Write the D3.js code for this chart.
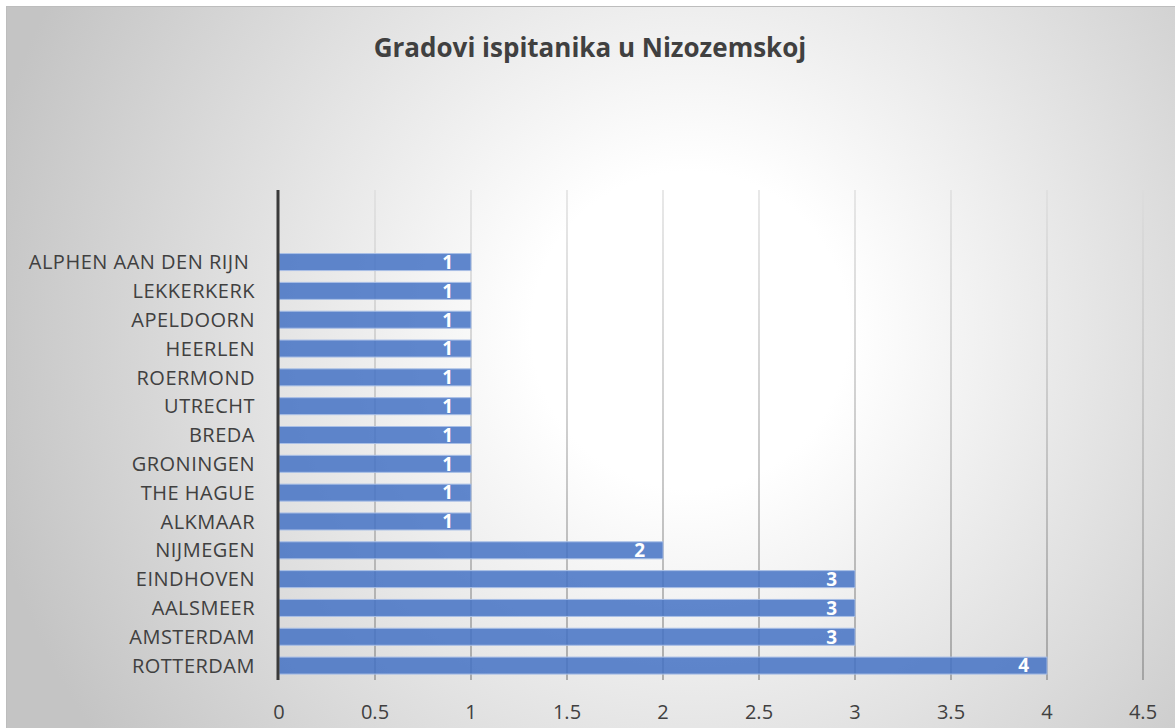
<!DOCTYPE html>
<html>
<head>
<meta charset="utf-8">
<script src="https://cdn.jsdelivr.net/npm/d3@7"></script>
<style>
  html, body { margin: 0; padding: 0; background: #fff; }
  svg { display: block; }
  text { font-family: "Open Sans", Lato, sans-serif; }
</style>
</head>
<body>
<svg id="chart" width="1175" height="728"></svg>
<script>
const title = "Gradovi ispitanika u Nizozemskoj";
// two blank category slots at the top of the axis, as in the source sheet
const blankSlots = ["", ""];
const categories = ["ALPHEN AAN DEN RIJN ", "LEKKERKERK", "APELDOORN", "HEERLEN", "ROERMOND",
  "UTRECHT", "BREDA", "GRONINGEN", "THE HAGUE", "ALKMAAR", "NIJMEGEN", "EINDHOVEN",
  "AALSMEER", "AMSTERDAM", "ROTTERDAM"];
const values = [1, 1, 1, 1, 1, 1, 1, 1, 1, 1, 2, 3, 3, 3, 4];
const xTicks = [0, 0.5, 1, 1.5, 2, 2.5, 3, 3.5, 4, 4.5];

const W = 1175, H = 728;
const svg = d3.select("#chart");
const defs = svg.append("defs");

const bg = defs.append("radialGradient").attr("id", "bg")
  .attr("gradientUnits", "userSpaceOnUse")
  .attr("cx", 690).attr("cy", 330).attr("r", 720);
bg.append("stop").attr("offset", "0%").attr("stop-color", "#ffffff");
bg.append("stop").attr("offset", "22%").attr("stop-color", "#ffffff");
bg.append("stop").attr("offset", "100%").attr("stop-color", "#c4c4c4");

const margin = { top: 190, bottom: 48, left: 279, right: 32 };
const plotTop = margin.top, plotBottom = H - margin.bottom;

const gl = defs.append("linearGradient").attr("id", "grid")
  .attr("gradientUnits", "userSpaceOnUse")
  .attr("x1", 0).attr("y1", plotTop).attr("x2", 0).attr("y2", plotBottom);
gl.append("stop").attr("offset", "0%").attr("stop-color", "#dcdcdc");
gl.append("stop").attr("offset", "100%").attr("stop-color", "#8a8a8a");

svg.append("rect").attr("x", 6.5).attr("y", 6.5).attr("width", W).attr("height", H)
  .attr("fill", "url(#bg)").attr("stroke", "#bdbdbd").attr("stroke-width", 1);

const slotKeys = blankSlots.map((d, i) => "blank" + i).concat(categories.map((d, i) => "c" + i));

const x = d3.scaleLinear().domain([0, 4.5]).range([margin.left, W - margin.right]);
const y = d3.scaleBand().domain(slotKeys).range([plotTop, plotBottom]).paddingInner(0.41).paddingOuter(0.205);

// gridlines
svg.append("g").selectAll("line").data(xTicks.filter(d => d > 0)).join("line")
  .attr("x1", d => x(d)).attr("x2", d => x(d))
  .attr("y1", plotTop).attr("y2", plotBottom)
  .attr("stroke", "url(#grid)").attr("stroke-width", 1.3);

// bars
svg.append("g").selectAll("rect").data(values).join("rect")
  .attr("x", x(0))
  .attr("y", (d, i) => y("c" + i))
  .attr("width", d => x(d) - x(0))
  .attr("height", y.bandwidth())
  .attr("fill", "#4472C4").attr("fill-opacity", 0.85)
  .attr("stroke", "#a9bfe6").attr("stroke-width", 1);

// data labels
svg.append("g").selectAll("text").data(values).join("text")
  .attr("x", d => x(d) - 18)
  .attr("y", (d, i) => y("c" + i) + y.bandwidth() / 2)
  .attr("dy", "0.36em")
  .attr("text-anchor", "end")
  .attr("fill", "#ffffff").attr("font-weight", "bold").attr("font-size", 19)
  .text(d => d);

// y axis line
svg.append("line").attr("x1", x(0) - 1).attr("x2", x(0) - 1)
  .attr("y1", plotTop).attr("y2", plotBottom)
  .attr("stroke", "#3a3a3a").attr("stroke-width", 3);

// category labels
svg.append("g").selectAll("text").data(categories).join("text")
  .attr("x", 255)
  .attr("y", (d, i) => y("c" + i) + y.bandwidth() / 2)
  .attr("dy", "0.36em")
  .attr("text-anchor", "end")
  .attr("fill", "#404040").attr("font-size", 20).attr("letter-spacing", 0.5)
  .style("white-space", "pre")
  .text(d => d);

// x tick labels
svg.append("g").selectAll("text").data(xTicks).join("text")
  .attr("x", d => x(d))
  .attr("y", 712)
  .attr("dy", "0.36em")
  .attr("text-anchor", "middle")
  .attr("fill", "#404040").attr("font-size", 20)
  .text(d => d);

// title
svg.append("text").attr("x", 590).attr("y", 48).attr("dy", "0.36em")
  .attr("text-anchor", "middle")
  .attr("fill", "#404040").attr("font-weight", "bold").attr("font-size", 26)
  .text(title);
</script>
</body>
</html>
